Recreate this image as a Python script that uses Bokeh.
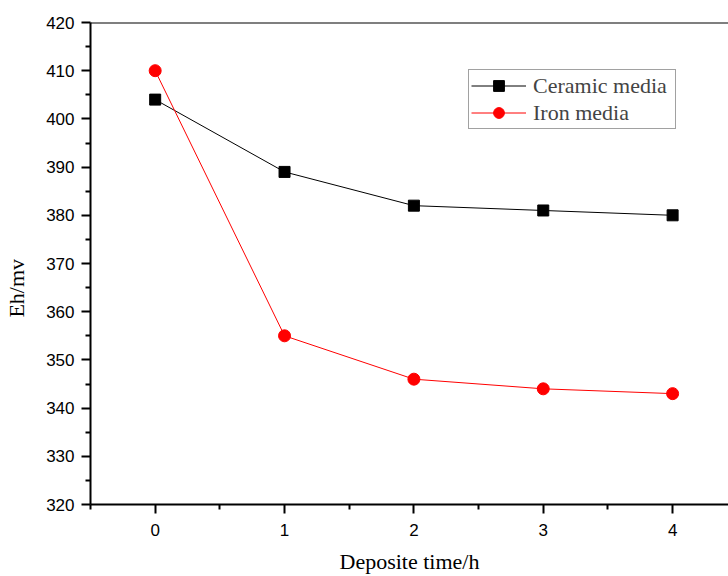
from bokeh.plotting import figure
from bokeh.models import Range1d, Span, Legend, LegendItem, FixedTicker
from bokeh.embed import file_html
from bokeh.resources import INLINE

times = [0, 1, 2, 3, 4]
ceramic = [404, 389, 382, 381, 380]
iron = [410, 355, 346, 344, 343]
x_ticks = [0, 1, 2, 3, 4]
y_ticks = [320, 330, 340, 350, 360, 370, 380, 390, 400, 410, 420]

p = figure(width=728, height=576, output_backend="svg", toolbar_location=None,
           x_range=Range1d(-0.5, 4.432), y_range=Range1d(320, 420),
           min_border_left=90, min_border_right=0, min_border_top=22, min_border_bottom=70)
p.outline_line_color = None
p.grid.visible = False
p.background_fill_color = "white"
p.border_fill_color = "white"

l1 = p.line(times, ceramic, line_color="black", line_width=1)
m1 = p.scatter(times, ceramic, marker="square", size=11, fill_color="black", line_color="black")
l2 = p.line(times, iron, line_color="red", line_width=1)
m2 = p.scatter(times, iron, marker="circle", size=12, fill_color="red", line_color="red")

p.add_layout(Span(location=420, dimension="width", line_color="black", line_width=2))

for ax in (p.xaxis[0], p.yaxis[0]):
    ax.axis_line_width = 2
    ax.major_tick_line_width = 2
    ax.minor_tick_line_width = 2
    ax.major_tick_out = 9
    ax.major_tick_in = 0
    ax.minor_tick_out = 5
    ax.minor_tick_in = 0
    ax.major_label_text_font = "Liberation Sans"
    ax.major_label_text_font_size = "17px"
    ax.major_label_text_color = "black"
    ax.axis_label_text_font = "Liberation Serif"
    ax.axis_label_text_font_size = "22px"
    ax.axis_label_text_font_style = "normal"
    ax.axis_label_text_color = "black"

p.xaxis.ticker = FixedTicker(ticks=x_ticks, minor_ticks=[-0.5, 0.5, 1.5, 2.5, 3.5])
p.yaxis.ticker = FixedTicker(ticks=y_ticks, minor_ticks=[325 + 10 * i for i in range(10)])
p.xaxis.axis_label = "Deposite time/h"
p.xaxis.major_label_standoff = 10
p.xaxis.axis_label_standoff = 10
p.yaxis.major_label_standoff = 7
# trailing no-break spaces push the visible label lower, as in the reference
p.yaxis.axis_label = "Eh/mv" + "\u00a0" * 9
p.yaxis.axis_label_standoff = 14

legend = Legend(items=[LegendItem(label="Ceramic media", renderers=[l1, m1]),
                       LegendItem(label="Iron media", renderers=[l2, m2])],
                location=(378, 375))
legend.label_text_font = "Liberation Serif"
legend.label_text_font_size = "22px"
legend.border_line_color = "#444444"
legend.border_line_width = 1
legend.glyph_width = 55
legend.label_standoff = 7
legend.label_width = 140
legend.spacing = 0
legend.padding = 2
legend.margin = 0
legend.label_height = 27
legend.glyph_height = 27
p.add_layout(legend, "center")

open("out.html", "w").write(file_html(p, INLINE))
